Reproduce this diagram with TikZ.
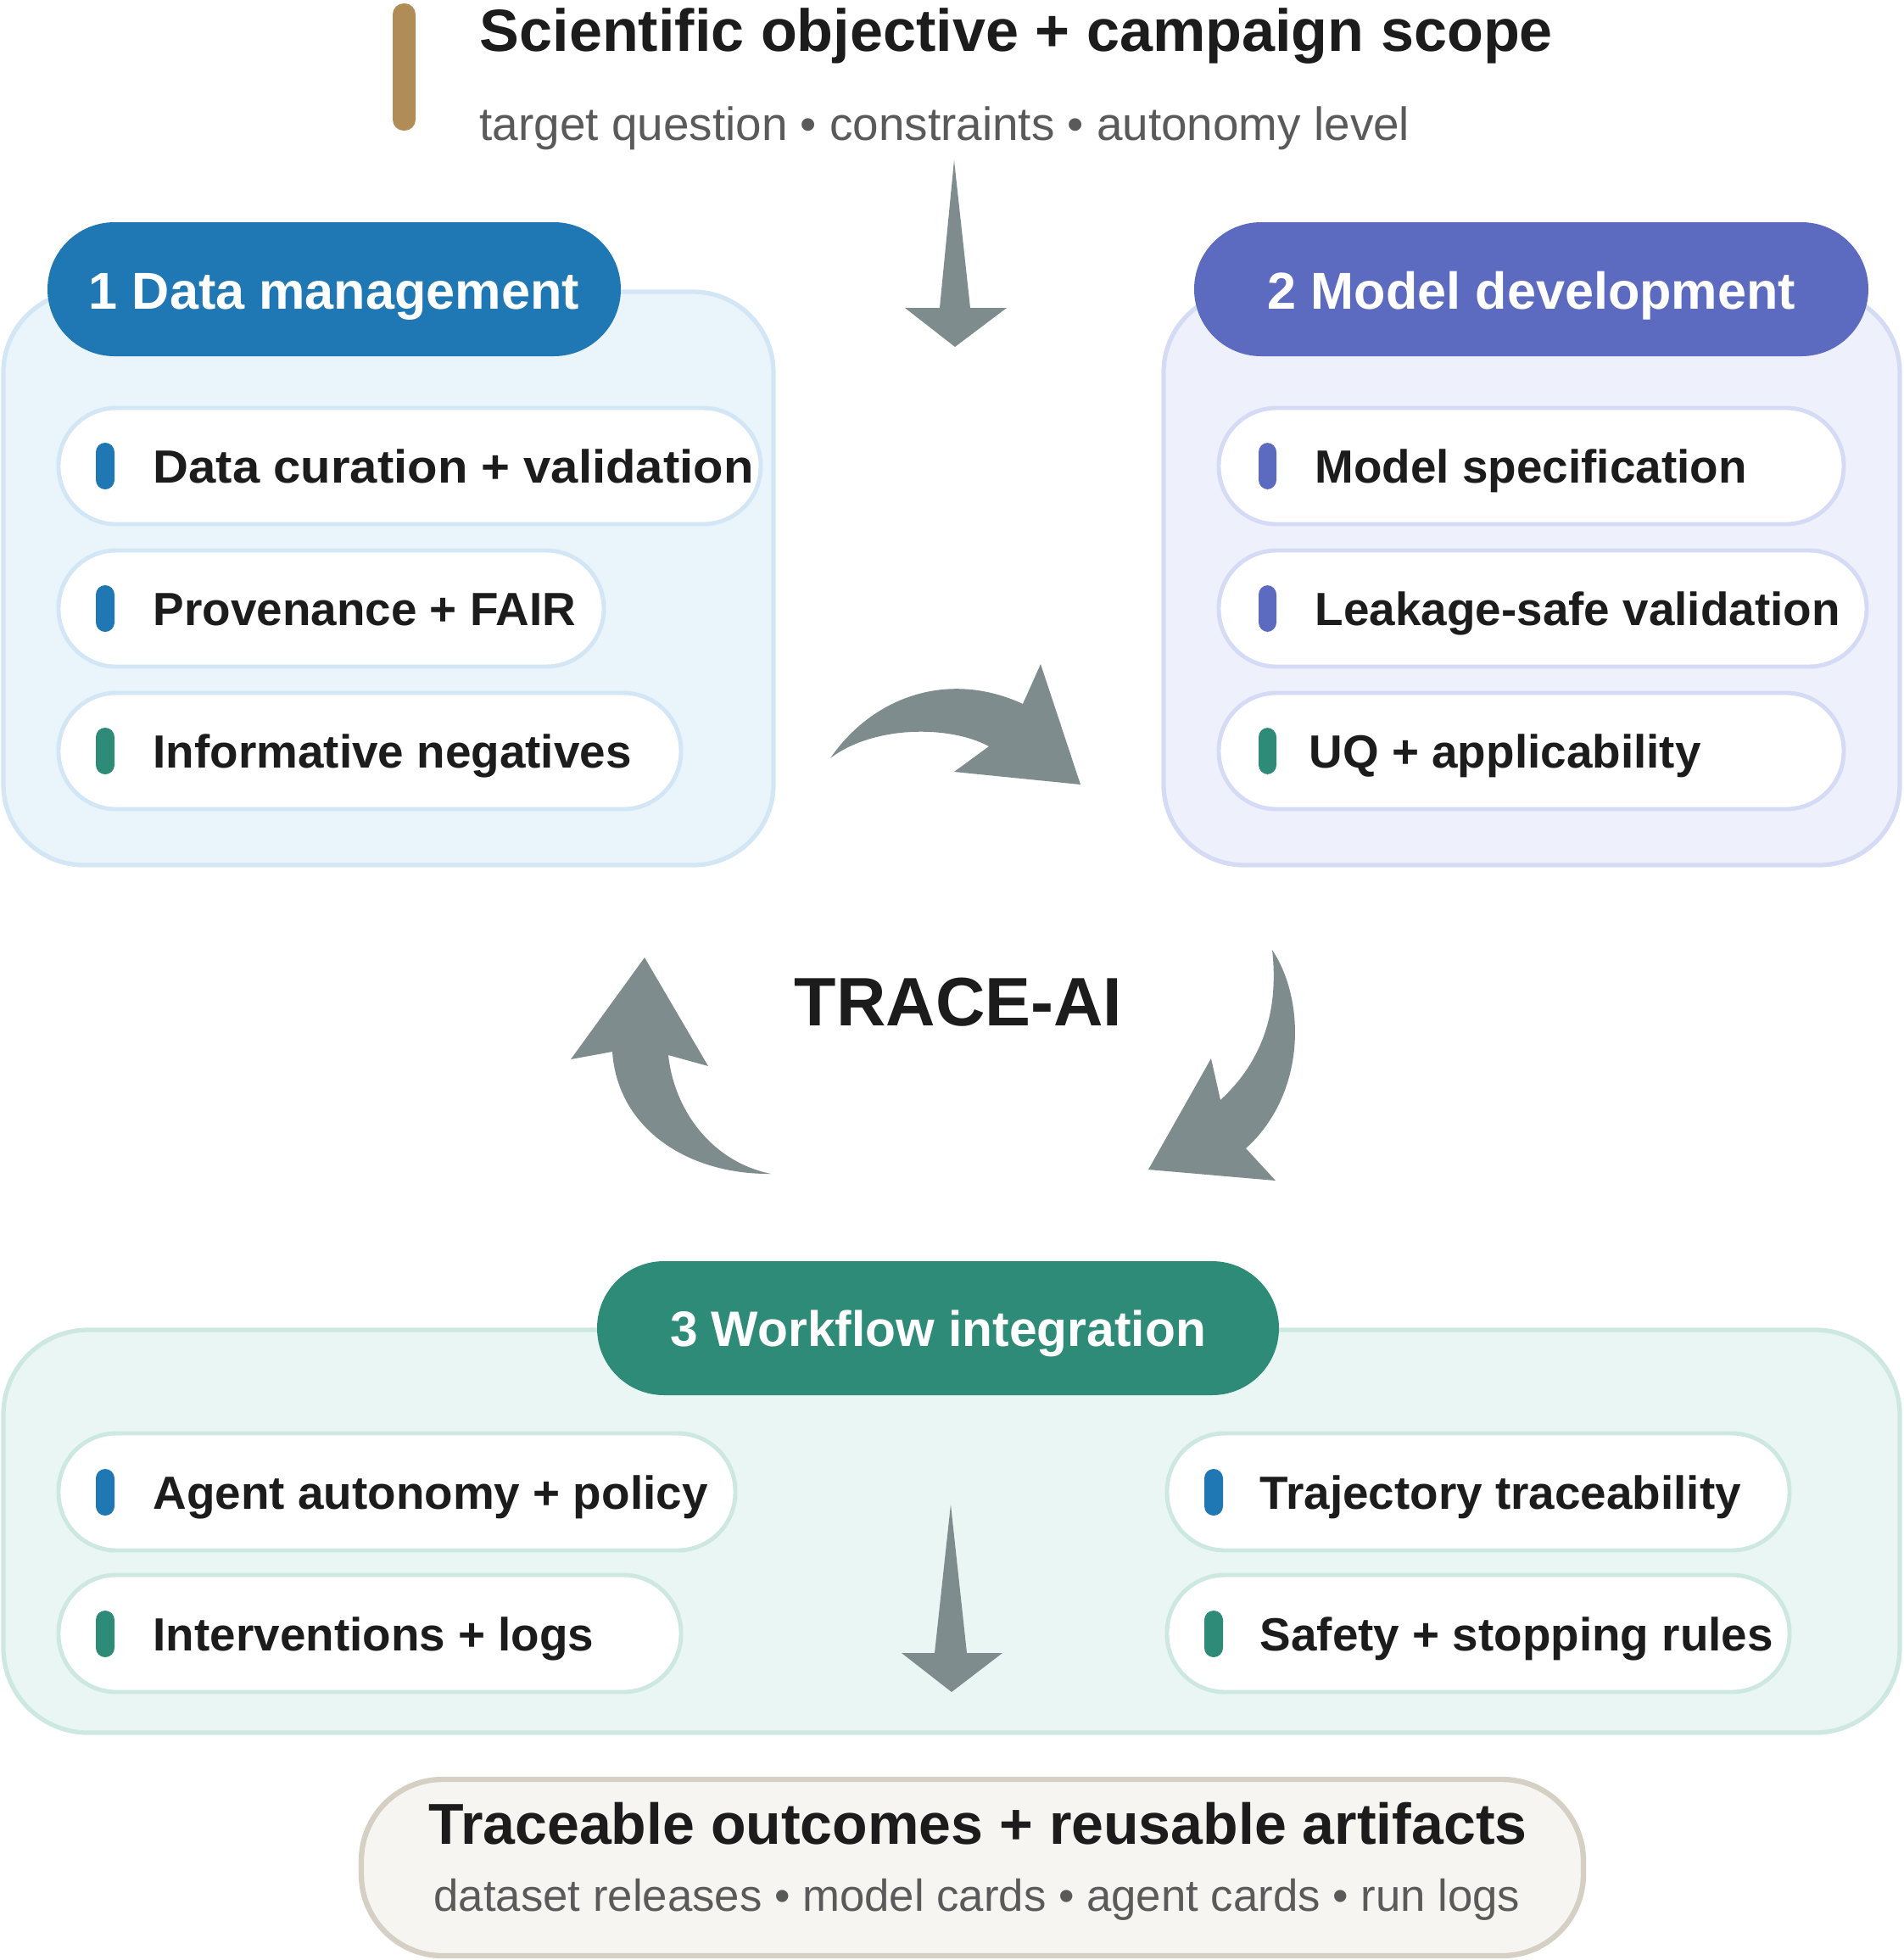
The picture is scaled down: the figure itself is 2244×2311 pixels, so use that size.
\documentclass[tikz,border=0pt]{standalone}
\usepackage{fontspec}
\setmainfont{Liberation Sans}
\definecolor{cblue}{HTML}{1F77B4}
\definecolor{cindigo}{HTML}{5C6BC0}
\definecolor{cteal}{HTML}{2E8B78}
\definecolor{ctan}{HTML}{B08D57}
\definecolor{pAfill}{HTML}{EAF4FB}
\definecolor{pAline}{HTML}{D3E6F5}
\definecolor{pBfill}{HTML}{EEF0FB}
\definecolor{pBline}{HTML}{D6DBF5}
\definecolor{pCfill}{HTML}{EAF6F4}
\definecolor{pCline}{HTML}{CDE8E1}
\definecolor{agray}{HTML}{7F8C8D}
\definecolor{ofill}{HTML}{F6F5F1}
\definecolor{oline}{HTML}{D6CFC4}
\definecolor{ink}{HTML}{1C1C1C}
\definecolor{subgray}{HTML}{5A5A5A}
\newcommand\fsz[1]{\fontsize{#1pt}{#1pt}\selectfont}
\tikzset{
  panelbox/.style={line width=1.5pt, rounded corners=0.95cm},
  hdrpill/.style={draw=none, rounded corners=0.79cm},
  itempill/.style={fill=white, line width=1.4pt, rounded corners=0.68cm},
  markbar/.style={rounded corners=0.11cm},
  hdrtext/.style={inner sep=0pt, anchor=base, text=white, font=\fsz{17.4}\bfseries},
  itemtext/.style={inner sep=0pt, anchor=base west, text=ink, font=\fsz{15.6}\bfseries},
  arrowshape/.style={fill=agray, draw=none},
}
\begin{document}
\begin{tikzpicture}[x=0.01cm,y=-0.01cm]
\useasboundingbox (0,0) rectangle (2244,2311);
\fill[white] (0,0) rectangle (2244,2311);

% ---- top objective
\fill[ctan, rounded corners=0.13cm] (463,4) rectangle (490,154);
\node[inner sep=0pt, anchor=base west, text=ink, font=\fsz{19.95}\bfseries] (objtitle) at (565,60) {Scientific objective + campaign scope};
\node[inner sep=0pt, anchor=base west, text=subgray, font=\fsz{15.6}] (objsub) at (565,165) {target question • constraints • autonomy level};

% top arrow
\fill[arrowshape] (1125,189) -- (1144,363) -- (1187,363) -- (1126,409) -- (1067,363) -- (1108,363) -- cycle;

% ---- panel 1
\draw[panelbox, fill=pAfill, draw=pAline] (4,344) rectangle (912,1020);
\fill[cblue, hdrpill] (56,262) rectangle (732,420);
\node[hdrtext] (h1) at (394,364) {1 Data management};

\draw[itempill, draw=pAline] (69,481) rectangle (897,618);
\fill[cblue, markbar] (113,522) rectangle (135,577);
\node[itemtext] (a1) at (180,569) {\scalebox{1.058}[1]{Data curation + validation}};

\draw[itempill, draw=pAline] (69,649) rectangle (712,786);
\fill[cblue, markbar] (113,690) rectangle (135,745);
\node[itemtext] (a2) at (180,737) {Provenance + FAIR};

\draw[itempill, draw=pAline] (69,817) rectangle (803,954);
\fill[cteal, markbar] (113,858) rectangle (135,913);
\node[itemtext] (a3) at (180,905) {Informative negatives};

% ---- panel 2
\draw[panelbox, fill=pBfill, draw=pBline] (1372,344) rectangle (2240,1020);
\fill[cindigo, hdrpill] (1408,262) rectangle (2203,420);
\node[hdrtext] (h2) at (1806,364) {2 Model development};

\draw[itempill, draw=pBline] (1437,481) rectangle (2174,618);
\fill[cindigo, markbar] (1484,522) rectangle (1505,577);
\node[itemtext] (b1) at (1550,569) {Model specification};

\draw[itempill, draw=pBline] (1437,649) rectangle (2201,786);
\fill[cindigo, markbar] (1484,690) rectangle (1505,745);
\node[itemtext] (b2) at (1550,737) {Leakage-safe validation};

\draw[itempill, draw=pBline] (1437,817) rectangle (2174,954);
\fill[cteal, markbar] (1484,858) rectangle (1505,913);
\node[itemtext] (b3) at (1543,905) {UQ + applicability};

% ---- cycle arrows and center label
\node[inner sep=0pt, anchor=base, text=ink, font=\fsz{23}\bfseries] (trace) at (1130,1209) {TRACE-AI};

\fill[arrowshape] (979,894) .. controls (1030,820) and (1120,790) .. (1206,830) -- (1227,783) -- (1274,925) -- (1125,910) -- (1166,880) .. controls (1120,855) and (1030,855) .. (979,894) -- cycle;

\fill[arrowshape] (1500,1120) .. controls (1540,1180) and (1540,1290) .. (1469,1354) -- (1504,1392) -- (1354,1379) -- (1428,1248) -- (1439,1297) .. controls (1490,1250) and (1508,1190) .. (1500,1120) -- cycle;

\fill[arrowshape] (909,1384) .. controls (810,1385) and (728,1330) .. (722,1240) -- (673,1249) -- (760,1129) -- (835,1257) -- (788,1244) .. controls (795,1310) and (840,1370) .. (909,1384) -- cycle;

% ---- panel 3
\draw[panelbox, fill=pCfill, draw=pCline, rounded corners=1.0cm] (4,1568) rectangle (2240,2043);
\fill[cteal, hdrpill] (704,1487) rectangle (1508,1645);
\node[hdrtext, font=\fsz{16.7}\bfseries] (h3) at (1106,1587) {3 Workflow integration};

\draw[itempill, draw=pCline] (69,1690) rectangle (867,1828);
\fill[cblue, markbar] (113,1732) rectangle (135,1787);
\node[itemtext] (c1) at (180,1779) {Agent autonomy + policy};

\draw[itempill, draw=pCline] (69,1857) rectangle (803,1995);
\fill[cteal, markbar] (113,1899) rectangle (135,1954);
\node[itemtext] (c2) at (180,1946) {Interventions + logs};

\draw[itempill, draw=pCline] (1376,1690) rectangle (2110,1828);
\fill[cblue, markbar] (1420,1732) rectangle (1442,1787);
\node[itemtext] (c3) at (1485,1779) {Trajectory traceability};

\draw[itempill, draw=pCline] (1376,1857) rectangle (2110,1995);
\fill[cteal, markbar] (1420,1899) rectangle (1442,1954);
\node[itemtext] (c4) at (1485,1946) {Safety + stopping rules};

% bottom arrow
\fill[arrowshape] (1121,1774) -- (1140,1949) -- (1182,1949) -- (1122,1995) -- (1063,1949) -- (1102,1949) -- cycle;

% ---- outcomes
\draw[fill=ofill, draw=oline, line width=1.8pt, rounded corners=0.96cm] (426,2098) rectangle (1867,2306);
\node[inner sep=0pt, anchor=base, text=ink, font=\fsz{19.35}\bfseries] (outtitle) at (1153,2174) {Traceable outcomes + reusable artifacts};
\node[inner sep=0pt, anchor=base, text=subgray, font=\fsz{15.0}] (outsub) at (1152,2253) {dataset releases • model cards • agent cards • run logs};
\end{tikzpicture}
\end{document}
